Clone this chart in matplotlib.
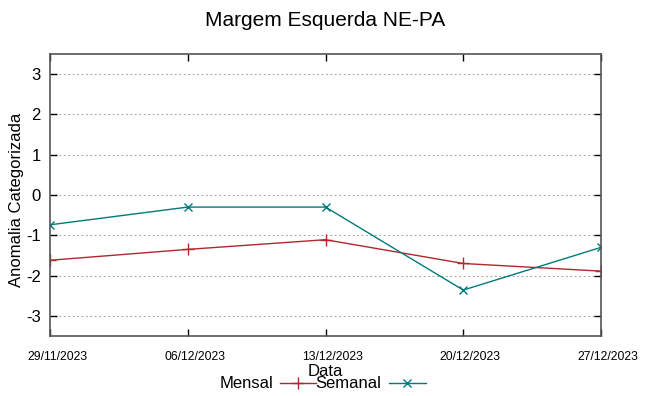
import matplotlib
matplotlib.use("Agg")
import matplotlib.pyplot as plt
from matplotlib.lines import Line2D
import matplotlib.transforms as mtransforms

dates = ["29/11/2023", "06/12/2023", "13/12/2023", "20/12/2023", "27/12/2023"]
mensal = [-1.62, -1.35, -1.11, -1.70, -1.89]
semanal = [-0.74, -0.30, -0.30, -2.36, -1.30]
yticks = [-3, -2, -1, 0, 1, 2, 3]

plt.rcParams['font.family'] = ['Liberation Sans', 'DejaVu Sans']

W, H = 649, 396
fig = plt.figure(figsize=(W/100, H/100), dpi=100)
l, r, t, b = 50, 601, 54, 336
ax = fig.add_axes([l/W, 1-b/H, (r-l)/W, (b-t)/H])

red = '#b0282c'
teal = '#007a7a'
x = list(range(len(dates)))
ax.plot(x, mensal, color=red, lw=1.0, marker='+', ms=8, mew=1.0)
ax.plot(x, semanal, color=teal, lw=1.0, marker='x', ms=6, mew=1.0)

ax.set_xlim(0, len(dates)-1)
ax.set_ylim(-3.5, 3.5)
ax.set_xticks(x)
ax.set_xticklabels(dates, fontsize=8.8)
ax.set_yticks(yticks)
ax.set_yticklabels([str(v) for v in yticks], fontsize=12)
ax.tick_params(axis='both', direction='in', top=True, right=True, length=5, width=1, color='#000000')
ax.tick_params(axis='x', pad=11)
ax.tick_params(axis='y', pad=6.5)
offset = mtransforms.ScaledTranslation(7/100, 0, fig.dpi_scale_trans)
for lab in ax.get_xticklabels():
    lab.set_transform(lab.get_transform() + offset)
ax.yaxis.grid(True, linestyle=(0, (1.5, 2.5)), color='#a0a0a0', lw=0.8)
for s in ax.spines.values():
    s.set_color('#555555')
    s.set_linewidth(1.2)

fig.text(325/W, 1-20/H, "Margem Esquerda NE-PA", ha='center', va='center', fontsize=15)
fig.text(17/W, 1-200/H, "Anomalia Categorizada", ha='center', va='center', rotation=90, fontsize=12)
fig.text(325/W, 1-371/H, "Data", ha='center', va='center', fontsize=12)

ly = 1-383/H
fig.text(273/W, ly, "Mensal", ha='right', va='center', fontsize=12)
fig.add_artist(Line2D([280/W, 316/W], [ly, ly], color=red, lw=1.0))
fig.add_artist(Line2D([298/W], [ly], color=red, marker='+', ms=8, mew=1.0))
fig.text(381/W, ly, "Semanal", ha='right', va='center', fontsize=12)
fig.add_artist(Line2D([389/W, 426/W], [ly, ly], color=teal, lw=1.0))
fig.add_artist(Line2D([407/W], [ly], color=teal, marker='x', ms=6, mew=1.0))

fig.savefig("out.png", dpi=100)
